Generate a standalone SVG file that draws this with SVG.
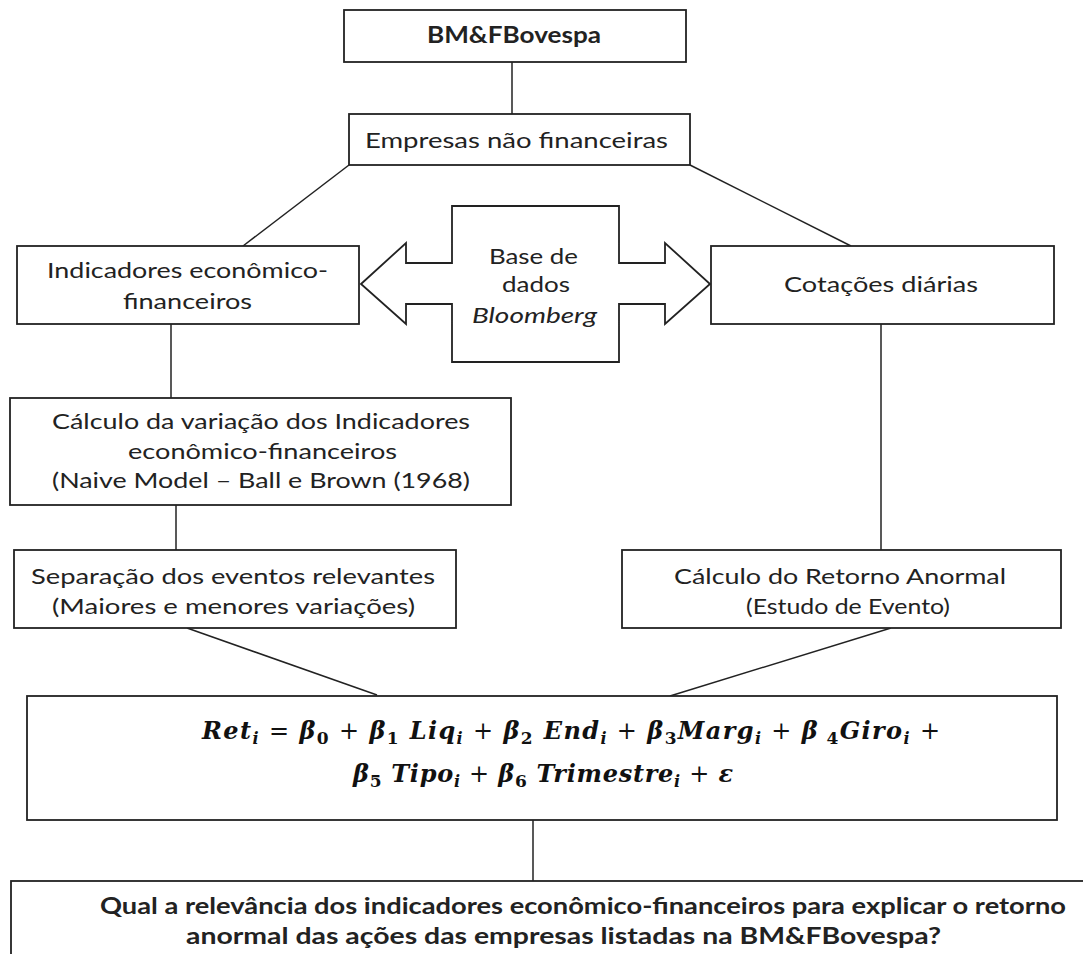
<svg xmlns="http://www.w3.org/2000/svg" width="1083" height="954" viewBox="0 0 1083 954">
<style>
.box{fill:#fff;stroke:#222;stroke-width:1.8}
.ln{fill:none;stroke:#222;stroke-width:1.5}
.t{font-family:Lato,"Liberation Sans",sans-serif;font-size:22px;fill:#222}
.b{font-weight:bold}
.it{font-style:italic}
.f{font-family:"DejaVu Serif","Liberation Serif",serif;font-size:24px;font-weight:bold;font-style:italic;fill:#111}
.op{font-family:"DejaVu Serif","Liberation Serif",serif;font-weight:normal;font-style:normal}
.s{font-size:16px}
.d{font-size:17px;font-style:normal}
</style>
<rect width="1083" height="954" fill="#fff"/>
<g id="connectors">
<line class="ln" x1="512" y1="62" x2="512" y2="114"/>
<line class="ln" x1="349" y1="165" x2="243" y2="246"/>
<line class="ln" x1="690" y1="165" x2="851" y2="246"/>
<line class="ln" x1="171" y1="324" x2="171" y2="398"/>
<line class="ln" x1="881" y1="324" x2="881" y2="550"/>
<line class="ln" x1="176" y1="505" x2="176" y2="550"/>
<line class="ln" x1="187" y1="628" x2="377" y2="695"/>
<line class="ln" x1="891" y1="628" x2="670" y2="696"/>
<line class="ln" x1="533" y1="820" x2="533" y2="881"/>
</g>
<g id="n-bmf">
<rect class="box" x="344" y="10" width="342" height="52"/>
<text class="t b" x="427" y="43" textLength="174" lengthAdjust="spacingAndGlyphs">BM&amp;FBovespa</text>
</g>
<g id="n-empresas">
<rect class="box" x="349" y="114" width="341" height="51"/>
<text class="t" x="365" y="148" textLength="303" lengthAdjust="spacingAndGlyphs">Empresas não financeiras</text>
</g>
<g id="n-indicadores">
<rect class="box" x="17" y="246" width="342" height="78"/>
<text class="t" x="47" y="278" textLength="281" lengthAdjust="spacingAndGlyphs">Indicadores econômico-</text>
<text class="t" x="123" y="309" textLength="129" lengthAdjust="spacingAndGlyphs">financeiros</text>
</g>
<g id="n-bloomberg">
<polygon class="box" points="361,284 406,243 406,263 452,263 452,206 619,206 619,263 665,263 665,243 710,284 665,324 665,304 619,304 619,362 452,362 452,304 406,304 406,324"/>
<text class="t" x="489" y="264" textLength="89" lengthAdjust="spacingAndGlyphs">Base de</text>
<text class="t" x="502" y="292" textLength="68" lengthAdjust="spacingAndGlyphs">dados</text>
<text class="t it" x="472" y="323" textLength="125" lengthAdjust="spacingAndGlyphs">Bloomberg</text>
</g>
<g id="n-cotacoes">
<rect class="box" x="711" y="246" width="343" height="78"/>
<text class="t" x="784" y="292" textLength="194" lengthAdjust="spacingAndGlyphs">Cotações diárias</text>
</g>
<g id="n-calculo-var">
<rect class="box" x="10" y="398" width="501" height="107"/>
<text class="t" x="52" y="429" textLength="418" lengthAdjust="spacingAndGlyphs">Cálculo da variação dos Indicadores</text>
<text class="t" x="128" y="459" textLength="269" lengthAdjust="spacingAndGlyphs">econômico-financeiros</text>
<text class="t" x="52" y="488" textLength="418" lengthAdjust="spacingAndGlyphs">(Naive Model – Ball e Brown (1968)</text>
</g>
<g id="n-separacao">
<rect class="box" x="14" y="550" width="442" height="78"/>
<text class="t" x="31" y="584" textLength="404" lengthAdjust="spacingAndGlyphs">Separação dos eventos relevantes</text>
<text class="t" x="52" y="614" textLength="363" lengthAdjust="spacingAndGlyphs">(Maiores e menores variações)</text>
</g>
<g id="n-retorno">
<rect class="box" x="622" y="550" width="439" height="78"/>
<text class="t" x="674" y="584" textLength="332" lengthAdjust="spacingAndGlyphs">Cálculo do Retorno Anormal</text>
<text class="t" x="746" y="614" textLength="204" lengthAdjust="spacingAndGlyphs">(Estudo de Evento)</text>
</g>
<g id="n-modelo">
<rect class="box" x="27" y="696" width="1030" height="124"/>
<text class="f" x="202" y="739" textLength="738" lengthAdjust="spacing">Ret<tspan class="s" dy="5">i</tspan><tspan class="op" dy="-5"> = </tspan>β<tspan class="d" dy="5">0</tspan><tspan class="op" dy="-5"> + </tspan>β<tspan class="d" dy="5">1</tspan><tspan dy="-5"> Liq</tspan><tspan class="s" dy="5">i</tspan><tspan class="op" dy="-5"> + </tspan>β<tspan class="d" dy="5">2</tspan><tspan dy="-5"> End</tspan><tspan class="s" dy="5">i</tspan><tspan class="op" dy="-5"> +  </tspan>β<tspan class="d" dy="5">3</tspan><tspan dy="-5">Marg</tspan><tspan class="s" dy="5">i</tspan><tspan class="op" dy="-5"> +  </tspan>β<tspan class="d" dy="5"> 4</tspan><tspan dy="-5">Giro</tspan><tspan class="s" dy="5">i</tspan><tspan class="op" dy="-5"> +</tspan></text>
<text class="f" x="353" y="782" textLength="380" lengthAdjust="spacing">β<tspan class="d" dy="5">5</tspan><tspan dy="-5"> Tipo</tspan><tspan class="s" dy="5">i</tspan><tspan class="op" dy="-5"> + </tspan>β<tspan class="d" dy="5">6</tspan><tspan dy="-5"> Trimestre</tspan><tspan class="s" dy="5">i</tspan><tspan class="op" dy="-5"> + </tspan>ε</text>
</g>
<g id="n-pergunta">
<rect class="box" x="11" y="881" width="1090" height="100"/>
<text class="t b" x="100" y="914" textLength="966" lengthAdjust="spacingAndGlyphs">Qual a relevância dos indicadores econômico-financeiros para explicar o retorno</text>
<text class="t b" x="186" y="944" textLength="755" lengthAdjust="spacingAndGlyphs">anormal das ações das empresas listadas na BM&amp;FBovespa?</text>
</g>
</svg>
